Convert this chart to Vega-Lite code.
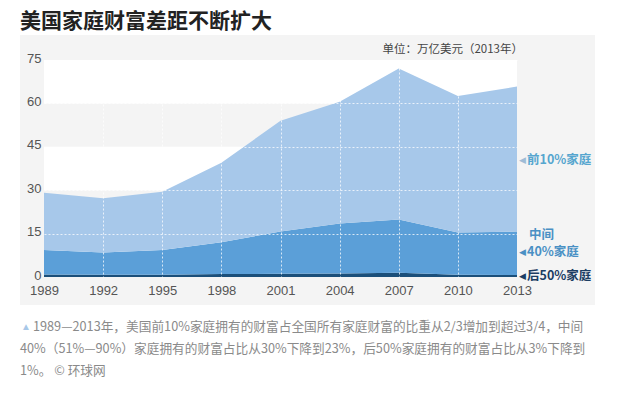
{
  "$schema": "https://vega.github.io/schema/vega-lite/v6.json",
  "autosize": "none",
  "width": 473,
  "height": 217,
  "padding": {"left": 44, "top": 60, "right": 103, "bottom": 118},
  "background": "#ffffff",
  "data": {"values": [{}]},
  "title": {
    "text": "美国家庭财富差距不断扩大",
    "font": "Noto Sans CJK SC",
    "fontSize": 21,
    "fontWeight": "bold",
    "color": "#222222",
    "anchor": "start",
    "frame": "group",
    "dx": -24,
    "offset": 3
  },
  "config": {
    "view": {"stroke": null},
    "axis": {"labelFont": "Liberation Sans", "labelFontSize": 13, "labelColor": "#555555"}
  },
  "datasets": {
    "wealth": [
      {"year": 1989, "group": "后50%家庭", "rank": 1, "value": 0.9},
      {"year": 1992, "group": "后50%家庭", "rank": 1, "value": 0.8},
      {"year": 1995, "group": "后50%家庭", "rank": 1, "value": 0.8},
      {"year": 1998, "group": "后50%家庭", "rank": 1, "value": 1.0},
      {"year": 2001, "group": "后50%家庭", "rank": 1, "value": 1.1},
      {"year": 2004, "group": "后50%家庭", "rank": 1, "value": 1.2},
      {"year": 2007, "group": "后50%家庭", "rank": 1, "value": 1.5},
      {"year": 2010, "group": "后50%家庭", "rank": 1, "value": 0.8},
      {"year": 2013, "group": "后50%家庭", "rank": 1, "value": 0.7},
      {"year": 1989, "group": "中间40%家庭", "rank": 2, "value": 8.4},
      {"year": 1992, "group": "中间40%家庭", "rank": 2, "value": 7.7},
      {"year": 1995, "group": "中间40%家庭", "rank": 2, "value": 8.5},
      {"year": 1998, "group": "中间40%家庭", "rank": 2, "value": 11.0},
      {"year": 2001, "group": "中间40%家庭", "rank": 2, "value": 14.6},
      {"year": 2004, "group": "中间40%家庭", "rank": 2, "value": 17.3},
      {"year": 2007, "group": "中间40%家庭", "rank": 2, "value": 18.4},
      {"year": 2010, "group": "中间40%家庭", "rank": 2, "value": 14.6},
      {"year": 2013, "group": "中间40%家庭", "rank": 2, "value": 15.0},
      {"year": 1989, "group": "前10%家庭", "rank": 3, "value": 19.8},
      {"year": 1992, "group": "前10%家庭", "rank": 3, "value": 18.7},
      {"year": 1995, "group": "前10%家庭", "rank": 3, "value": 20.2},
      {"year": 1998, "group": "前10%家庭", "rank": 3, "value": 27.5},
      {"year": 2001, "group": "前10%家庭", "rank": 3, "value": 38.3},
      {"year": 2004, "group": "前10%家庭", "rank": 3, "value": 42.1},
      {"year": 2007, "group": "前10%家庭", "rank": 3, "value": 52.2},
      {"year": 2010, "group": "前10%家庭", "rank": 3, "value": 47.2},
      {"year": 2013, "group": "前10%家庭", "rank": 3, "value": 50.1}
    ]
  },
  "layer": [
    {
      "mark": {"type": "rect", "color": "#f4f4f4"},
      "encoding": {
        "x": {"datum": 1987.78, "type": "quantitative", "scale": {"domain": [1989, 2013], "nice": false, "zero": false}},
        "x2": {"datum": 2016.96},
        "y": {"datum": 83.65, "type": "quantitative", "scale": {"domain": [0, 75], "nice": false}},
        "y2": {"datum": -9.68}
      }
    },
    {
      "mark": {"type": "rect", "color": "#ffffff"},
      "encoding": {
        "x": {"datum": 1989, "type": "quantitative"}, "x2": {"datum": 2013},
        "y": {"datum": 75, "type": "quantitative"}, "y2": {"datum": 60}
      }
    },
    {
      "mark": {"type": "rect", "color": "#ffffff"},
      "encoding": {
        "x": {"datum": 1989, "type": "quantitative"}, "x2": {"datum": 2013},
        "y": {"datum": 45, "type": "quantitative"}, "y2": {"datum": 30}
      }
    },
    {
      "mark": {"type": "rect", "color": "#ffffff"},
      "encoding": {
        "x": {"datum": 1989, "type": "quantitative"}, "x2": {"datum": 2013},
        "y": {"datum": 15, "type": "quantitative"}, "y2": {"datum": 0}
      }
    },
    {
      "data": {"name": "wealth"},
      "mark": {"type": "area", "opacity": 1},
      "encoding": {
        "x": {
          "field": "year", "type": "quantitative",
          "axis": {
            "title": null, "values": [1989, 1992, 1995, 1998, 2001, 2004, 2007, 2010, 2013],
            "format": "d", "domain": false, "ticks": false, "labelPadding": 7, "labelFlush": false,
            "grid": true, "gridColor": "#ffffff", "gridDash": [2, 2], "gridWidth": 1,
            "gridOpacity": {"condition": {"test": "datum.value === 1989 || datum.value === 2013", "value": 0}, "value": 0.75},
            "zindex": 1
          }
        },
        "y": {
          "field": "value", "type": "quantitative", "stack": "zero",
          "axis": {
            "title": null, "values": [0, 15, 30, 45, 60, 75],
            "domain": false, "ticks": false, "labelPadding": 3, "labelFlush": false, "labelOffset": -2,
            "grid": true, "gridColor": "#ffffff", "gridDash": [2, 2], "gridWidth": 1,
            "gridOpacity": {"condition": {"test": "datum.value === 0", "value": 0}, "value": 0.75},
            "zindex": 1
          }
        },
        "color": {
          "field": "group", "type": "nominal",
          "scale": {"domain": ["后50%家庭", "中间40%家庭", "前10%家庭"], "range": ["#1b4f7a", "#5b9fd8", "#a7c8ea"]},
          "legend": null
        },
        "order": {"field": "rank", "type": "quantitative", "sort": "ascending"}
      }
    },
    {
      "mark": {"type": "text", "text": "◀", "fontSize": 9, "color": "#9fbcd6", "align": "center", "baseline": "middle", "dx": 5},
      "encoding": {"x": {"datum": 2013, "type": "quantitative"}, "y": {"datum": 40.3, "type": "quantitative"}}
    },
    {
      "mark": {"type": "text", "text": "前10%家庭", "font": "Noto Sans CJK SC", "fontSize": 12.5, "fontWeight": "bold", "color": "#56a6cf", "align": "left", "baseline": "middle", "dx": 10},
      "encoding": {"x": {"datum": 2013, "type": "quantitative"}, "y": {"datum": 40.3, "type": "quantitative"}}
    },
    {
      "mark": {"type": "text", "text": "中间", "font": "Noto Sans CJK SC", "fontSize": 12.5, "fontWeight": "bold", "color": "#4a90c4", "align": "left", "baseline": "middle", "dx": 12},
      "encoding": {"x": {"datum": 2013, "type": "quantitative"}, "y": {"datum": 14.5, "type": "quantitative"}}
    },
    {
      "mark": {"type": "text", "text": "◀", "fontSize": 9, "color": "#4a90c4", "align": "center", "baseline": "middle", "dx": 5},
      "encoding": {"x": {"datum": 2013, "type": "quantitative"}, "y": {"datum": 8.5, "type": "quantitative"}}
    },
    {
      "mark": {"type": "text", "text": "40%家庭", "font": "Noto Sans CJK SC", "fontSize": 12.5, "fontWeight": "bold", "color": "#4a90c4", "align": "left", "baseline": "middle", "dx": 10},
      "encoding": {"x": {"datum": 2013, "type": "quantitative"}, "y": {"datum": 8.5, "type": "quantitative"}}
    },
    {
      "mark": {"type": "text", "text": "◀", "fontSize": 9, "color": "#1b3d63", "align": "center", "baseline": "middle", "dx": 5},
      "encoding": {"x": {"datum": 2013, "type": "quantitative"}, "y": {"datum": 0.2, "type": "quantitative"}}
    },
    {
      "mark": {"type": "text", "text": "后50%家庭", "font": "Noto Sans CJK SC", "fontSize": 12.5, "fontWeight": "bold", "color": "#1b3d63", "align": "left", "baseline": "middle", "dx": 10},
      "encoding": {"x": {"datum": 2013, "type": "quantitative"}, "y": {"datum": 0.2, "type": "quantitative"}}
    },
    {
      "mark": {"type": "text", "text": "单位：万亿美元（2013年）", "font": "Noto Sans CJK SC", "fontSize": 11.5, "color": "#444444", "align": "right", "baseline": "middle", "dx": 6},
      "encoding": {"x": {"datum": 2013, "type": "quantitative"}, "y": {"datum": 78.5, "type": "quantitative"}}
    },
    {
      "mark": {"type": "text", "text": "▲", "fontSize": 10, "color": "#a8c8e8", "align": "left", "baseline": "middle", "dx": -23},
      "encoding": {"x": {"datum": 1989, "type": "quantitative"}, "y": {"datum": -17.3, "type": "quantitative"}}
    },
    {
      "mark": {"type": "text", "text": "1989—2013年，美国前10%家庭拥有的财富占全国所有家庭财富的比重从2/3增加到超过3/4，中间", "font": "Noto Sans CJK SC", "fontSize": 12.7, "color": "#8a8a8a", "align": "left", "baseline": "middle", "dx": -11},
      "encoding": {"x": {"datum": 1989, "type": "quantitative"}, "y": {"datum": -17.3, "type": "quantitative"}}
    },
    {
      "mark": {"type": "text", "text": "40%（51%—90%）家庭拥有的财富占比从30%下降到23%，后50%家庭拥有的财富占比从3%下降到", "font": "Noto Sans CJK SC", "fontSize": 12.7, "color": "#8a8a8a", "align": "left", "baseline": "middle", "dx": -24},
      "encoding": {"x": {"datum": 1989, "type": "quantitative"}, "y": {"datum": -24.9, "type": "quantitative"}}
    },
    {
      "mark": {"type": "text", "text": "1%。 © 环球网", "font": "Noto Sans CJK SC", "fontSize": 12.7, "color": "#8a8a8a", "align": "left", "baseline": "middle", "dx": -24},
      "encoding": {"x": {"datum": 1989, "type": "quantitative"}, "y": {"datum": -32.5, "type": "quantitative"}}
    }
  ]
}
